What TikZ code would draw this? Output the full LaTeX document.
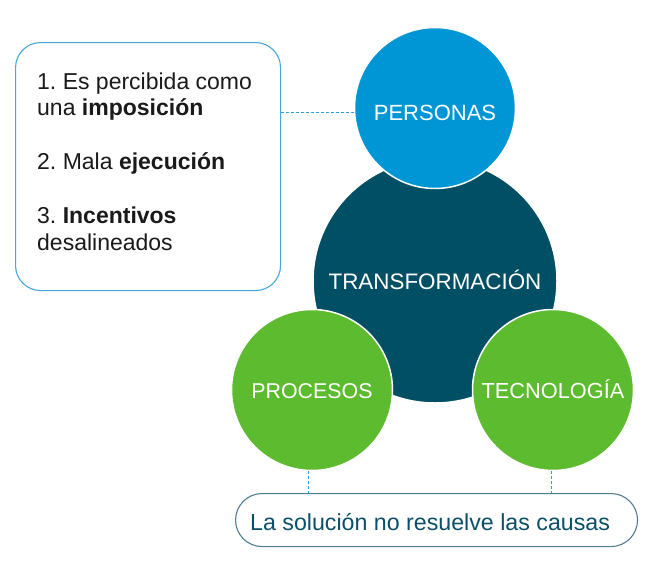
\documentclass[tikz,border=0pt]{standalone}
\usepackage{fontspec}
\setmainfont{Liberation Sans}
\frenchspacing
\definecolor{cblue}{HTML}{0096D6}
\definecolor{cdark}{HTML}{004F64}
\definecolor{cgreen}{HTML}{5DBB2F}
\definecolor{cboxblue}{HTML}{45A8DC}
\definecolor{cboxgray}{HTML}{4F7D91}
\definecolor{cdash}{HTML}{2AA0DC}
\definecolor{ctext}{HTML}{1A1A1A}
\definecolor{cbottxt}{HTML}{0B5068}
\begin{document}
\begin{tikzpicture}[x=1pt,y=-1pt,
  circ/.style={circle, draw=white, line width=1.5, text=white, inner sep=0pt,
    font=\fontsize{22}{26}\selectfont, text height=16pt, text depth=0pt},
  leftbox/.style={draw=cboxblue, line width=1.1, rounded corners=25, fill=white, inner sep=0pt},
  bottombox/.style={draw=cboxgray, line width=1.1, rounded corners=26.5, fill=white, inner sep=0pt},
  ltxt/.style={anchor=base west, inner sep=0pt, text=ctext, font=\fontsize{23}{27}\selectfont\frenchspacing},
  btxt/.style={anchor=base west, inner sep=0pt, text=cbottxt, font=\fontsize{23.2}{27}\selectfont},
  conn/.style={draw=cdash, line width=1, dash pattern=on 3pt off 2pt}
]
\useasboundingbox (0,0) rectangle (664,573);

% left box and text
\node[leftbox, minimum width=265, minimum height=248, anchor=north west] (lbox) at (15,42) {};
\node[ltxt] (l1) at (37,89) {1. Es percibida como};
\node[ltxt] (l2) at (37,115) {una \textbf{imposición}};
\node[ltxt] (l3) at (37,169) {2. Mala \textbf{ejecución}};
\node[ltxt] (l4) at (37,223) {3. \textbf{Incentivos}};
\node[ltxt] (l5) at (37,250) {desalineados};

% bottom box and text
\node[bottombox, minimum width=402, minimum height=53, anchor=north west] (sol) at (235,493) {};
\node[btxt] (soltxt) at (250,530) {La solución no resuelve las causas};

% circles
\node[circ, fill=cdark, minimum size=244, font=\fontsize{22.4}{26}\selectfont] (trans) at (435,281) {TRANSFORMACIÓN};
\node[circ, fill=cblue, minimum size=161, text height=24pt] (pers) at (435,108) {PERSONAS};
\node[circ, fill=cgreen, minimum size=161, font=\fontsize{21.4}{26}\selectfont] (proc) at (312,390) {PROCESOS};
\node[circ, fill=cgreen, minimum size=161, font=\fontsize{21.8}{26}\selectfont] (tec) at (553,390) {TECNOLOGÍA};

% connectors
\coordinate (pw) at ([yshift=-4]pers.west);
\coordinate (ps) at ([xshift=-4]proc.south);
\coordinate (ts) at ([xshift=-2]tec.south);
\draw[conn] (pw) -- (lbox.east |- pw);
\draw[conn] (ps) -- (ps |- sol.north);
\draw[conn] (ts) -- (ts |- sol.north);
\end{tikzpicture}
\end{document}
